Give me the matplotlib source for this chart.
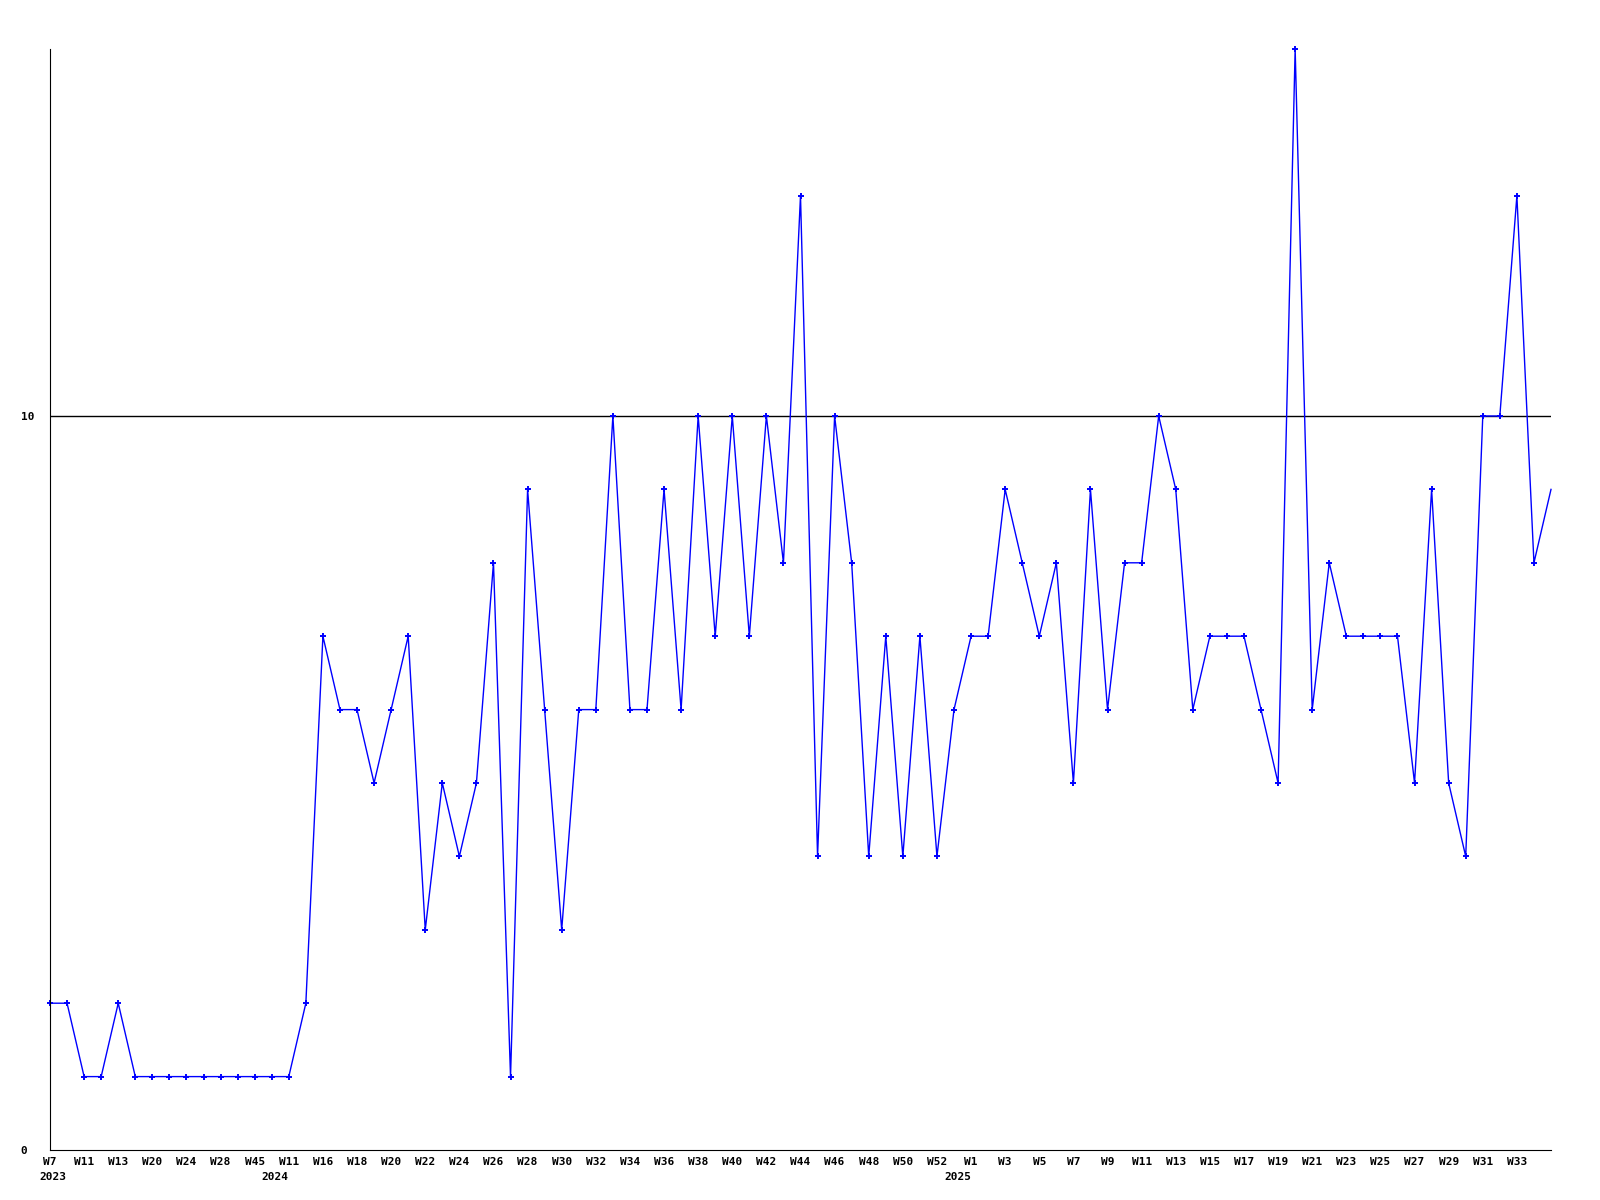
import matplotlib
matplotlib.use("Agg")
import matplotlib.pyplot as plt

# weekly counts, one point per week in the series
weeks = ["W7", "", "W11", "", "W13", "", "W20", "", "W24", "", "W28", "", "W45", "",
         "W11", "", "W16", "", "W18", "", "W20", "", "W22", "", "W24", "", "W26", "",
         "W28", "", "W30", "", "W32", "", "W34", "", "W36", "", "W38", "", "W40", "",
         "W42", "", "W44", "", "W46", "", "W48", "", "W50", "", "W52", "", "W1", "",
         "W3", "", "W5", "", "W7", "", "W9", "", "W11", "", "W13", "", "W15", "",
         "W17", "", "W19", "", "W21", "", "W23", "", "W25", "", "W27", "", "W29", "",
         "W31", "", "W33", "", ""]
year_pos = [0, 14, 54]
year_txt = ["2023", "2024", "2025"]

values = [2, 2, 1, 1, 2, 1, 1, 1, 1, 1, 1, 1, 1, 1,
          1, 2, 7, 6, 6, 5, 6, 7, 3, 5, 4, 5, 8, 1,
          9, 6, 3, 6, 6, 10, 6, 6, 9, 6, 10, 7, 10, 7,
          10, 8, 13, 4, 10, 8, 4, 7, 4, 7, 4, 6, 7, 7,
          9, 8, 7, 8, 5, 9, 6, 8, 8, 10, 9, 6, 7, 7,
          7, 6, 5, 15, 6, 8, 7, 7, 7, 7, 5, 9, 5, 4,
          10, 10, 13, 8, 9]

x = list(range(len(values)))
mono = dict(family="DejaVu Sans Mono", fontsize=8, fontweight="bold")

fig = plt.figure(figsize=(16, 12), dpi=100)
ax = fig.add_axes([50 / 1600, 50 / 1200, 1501 / 1600, 1101 / 1200])

ax.plot(x, values, color="#0000ff", lw=1.0, marker="+", ms=4, mew=1.4,
        markevery=list(range(len(values) - 1)), clip_on=False)
ax.axhline(10, color="black", lw=1.0, zorder=0)

ax.set_xlim(0, len(values) - 1)
ax.set_ylim(0, 15)

ticks = [i for i, w in enumerate(weeks) if w]
ax.set_xticks(ticks)
ax.set_xticklabels([weeks[i] for i in ticks], **mono)

# year under the first week of each year, ending at the point
for p, yr in zip(year_pos, year_txt):
    if p == 0:
        ax.annotate(yr, (p, 0), xytext=(-8, -19.5), textcoords="offset points",
                    ha="left", va="center", annotation_clip=False, **mono)
    else:
        ax.annotate(yr, (p, 0), xytext=(0, -19.5), textcoords="offset points",
                    ha="right", va="center", annotation_clip=False, **mono)

ax.set_yticks([0, 10])
ax.set_yticklabels(["0", "10"], ha="left", **mono)
ax.tick_params(length=0)
ax.tick_params(axis="x", pad=5)
ax.tick_params(axis="y", pad=21)

for s in ["top", "right"]:
    ax.spines[s].set_visible(False)

fig.savefig("out.png", dpi=100, facecolor="white")
